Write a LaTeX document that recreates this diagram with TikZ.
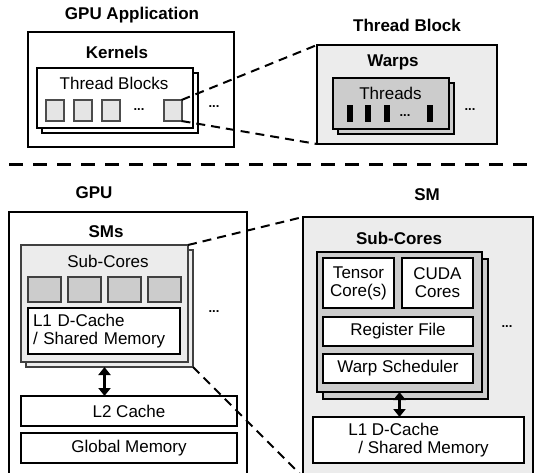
\documentclass[tikz,border=0pt]{standalone}
\usepackage{fontspec}
\setmainfont{Liberation Sans}
\usetikzlibrary{positioning, arrows.meta}

\begin{document}
\begin{tikzpicture}[
    x=1pt, y=-1pt,
    font=\fontsize{17}{18}\selectfont,
    box/.style={rectangle, draw, line width=2pt, inner sep=0pt, outer sep=0pt, align=center},
    plain/.style={box, fill=white},
    light/.style={box, fill=gray!15},
    dark/.style={box, fill=gray!40},
    title/.style={font=\fontsize{17}{18}\selectfont\bfseries},
    dots/.style={font=\fontsize{13}{13}\selectfont\bfseries, inner sep=0pt},
    tblk/.style={box, draw=black!70, fill=gray!20, minimum width=18pt, minimum height=21pt},
    thr/.style={rectangle, fill=black, inner sep=0pt, minimum width=6pt, minimum height=17pt},
    core/.style={box, draw=black!75, fill=gray!40, minimum width=33pt, minimum height=25pt},
    zoomline/.style={line width=2pt, dash pattern=on 9pt off 6pt},
    arrow/.style={{Triangle[width=12pt,length=8pt]}-{Triangle[width=12pt,length=8pt]}, line width=3pt}
]
\useasboundingbox (0,0) rectangle (535,473);

\node[title] (apptitle) at (132,15) {GPU Application};
\node[plain, minimum width=206pt, minimum height=115pt] (appbox) at (131,89.5) {};
\node[title] (kernels) at (117,52) {Kernels};
\node[plain, minimum width=156pt, minimum height=60pt] (tbback) at (120,103) {};
\node[plain, minimum width=156pt, minimum height=60pt] (tbcard) at (115,98) {};
\node (tbtext) at (114,83) {Thread Blocks};
\node[tblk] (sq1) at (55,110.5) {};
\node[tblk, right=10pt of sq1] (sq2) {};
\node[tblk, right=10pt of sq2] (sq3) {};
\node[dots] (tbdots) at (139,110) {...};
\node[tblk] (sq4) at (172.5,110.5) {};
\node[dots] (appdots) at (214,107) {...};

\node[title] (tbtitle) at (407,25) {Thread Block};
\node[light, minimum width=180pt, minimum height=99pt] (tbbox) at (407,94.5) {};
\node[title] (warps) at (393,62) {Warps};
\node[dark, minimum width=116pt, minimum height=51pt] (wback) at (396,108.5) {};
\node[dark, minimum width=116pt, minimum height=51pt] (wcard) at (391,103.5) {};
\node (thtext) at (390.5,93) {Threads};
\node[thr] (t1) at (350,113.5) {};
\node[thr, right=12pt of t1] (t2) {};
\node[thr, right=12pt of t2] (t3) {};
\node[dots] (wdots) at (405,116) {...};
\node[thr] (t4) at (430,113.5) {};
\node[dots] (tbdots2) at (470,110) {...};

\draw[zoomline] (sq4.north east) -- (tbbox.north west);
\draw[zoomline] (sq4.south east) -- (tbbox.south west);

\coordinate (sepl) at (9,165);
\coordinate (sepr) at (545,165);
\draw[line width=3pt, dash pattern=on 14pt off 10pt] (sepl) -- (sepr);

\node[title] (gputitle) at (94,193) {GPU};
\node[plain, minimum width=238pt, minimum height=265pt] (gpubox) at (128,344.5) {};
\node[title] (sms) at (106,232) {SMs};
\node[light, draw=black!75, minimum width=167pt, minimum height=117pt] (smback) at (109.5,308.5) {};
\node[light, draw=black!75, minimum width=167pt, minimum height=117pt] (smcard) at (104.5,303.5) {};
\node (sctext) at (108,261.5) {Sub-Cores};
\node[core] (c1) at (44.5,289.5) {};
\node[core, right=7pt of c1] (c2) {};
\node[core, right=7pt of c2] (c3) {};
\node[core, right=7pt of c3] (c4) {};
\node[plain, minimum width=152pt, minimum height=46pt, text width=142pt, align=left] (l1a) at (104,331) {L1 D-Cache\\/ Shared Memory};
\node[dots] (smdots) at (214,312) {...};
\node[plain, minimum width=216pt, minimum height=30pt] (l2) at (129,411) {L2 Cache};
\node[plain, minimum width=216pt, minimum height=30pt] (gmem) at (129,448) {Global Memory};
\draw[arrow] (smcard.south |- smback.south) -- (smcard.south |- l2.north);

\node[title] (smtitle) at (427,195) {SM};
\node[light, minimum width=230pt, minimum height=260pt] (smbox) at (418,347) {};
\node[title] (subcores) at (399,238) {Sub-Cores};
\node[dark, minimum width=165pt, minimum height=140pt] (subback) at (405.5,328.5) {};
\node[dark, minimum width=165pt, minimum height=140pt] (subcard) at (399.5,322) {};
\node[plain, minimum width=71pt, minimum height=50pt] (tensor) at (358.5,283) {Tensor\\Core(s)};
\node[plain, minimum width=71pt, minimum height=50pt, right=8pt of tensor] (cuda) {CUDA\\Cores};
\node[plain, minimum width=150pt, minimum height=29pt] (regfile) at (398,331.5) {Register File};
\node[plain, minimum width=150pt, minimum height=29pt, below=8pt of regfile] (warpsch) {Warp Scheduler};
\node[plain, minimum width=211pt, minimum height=46pt, align=left] (l1b) at (418.5,440) {L1 D-Cache\\\hspace*{10pt}/ Shared Memory};
\node[dots] (subdots) at (507,327) {...};
\draw[arrow] (subcard.south) -- (subcard.south |- l1b.north);

\draw[zoomline] (smcard.north east) -- (smbox.north west);
\draw[zoomline] (smback.south east) -- (smbox.south west);
\end{tikzpicture}
\end{document}
